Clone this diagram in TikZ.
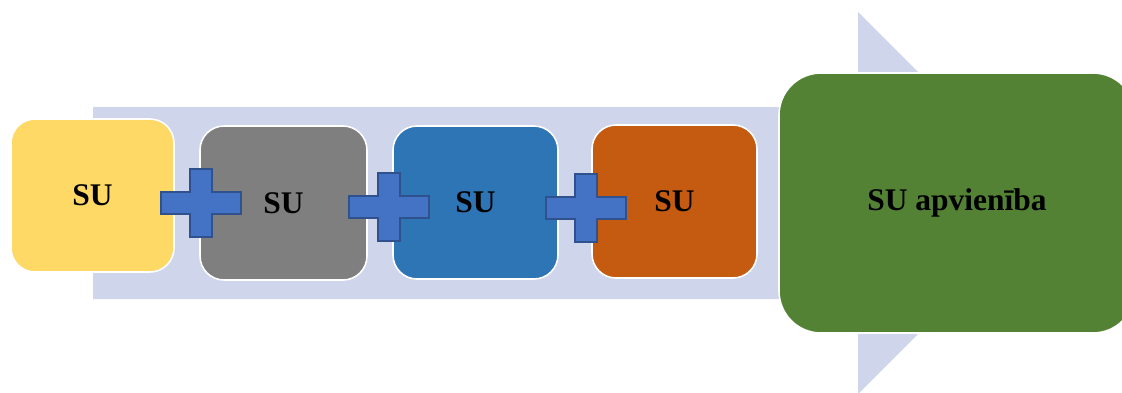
\documentclass[tikz,border=0pt]{standalone}
\usepackage{fontspec}
\setmainfont{Liberation Serif}
\begin{document}
\begin{tikzpicture}[x=1pt,y=-1pt,
  unit/.style={rounded corners=24pt, draw=white, line width=1.6pt,
    font=\fontsize{31.5}{36}\selectfont\bfseries, text=black, inner sep=0pt},
  plusbar/.style={fill=plusblue, draw=plusedge, line width=1.3pt},
]
\definecolor{bgarrow}{HTML}{CFD5EA}
\definecolor{suyellow}{HTML}{FFD966}
\definecolor{sugray}{HTML}{7F7F7F}
\definecolor{sublue}{HTML}{2E75B6}
\definecolor{suorange}{HTML}{C55A11}
\definecolor{sugreen}{HTML}{548235}
\definecolor{plusblue}{HTML}{4472C4}
\definecolor{plusedge}{HTML}{2F528F}
\useasboundingbox (0,0) rectangle (1122,392);
\clip (0,0) rectangle (1122,392);

% block arrow in the background
\fill[bgarrow] (93,107) -- (858,107) -- (858,12) -- (1049,203)
  -- (858,394) -- (858,299) -- (93,299) -- cycle;

% units
\node[unit, fill=suyellow, minimum width=163pt, minimum height=153pt] (u1) at (92.5,195.5) {SU};
\node[unit, fill=sugray,   minimum width=167pt, minimum height=154pt] (u2) at (283.5,203) {SU};
\node[unit, fill=sublue,   minimum width=165pt, minimum height=153pt] (u3) at (475.5,202.5) {SU};
\node[unit, fill=suorange, minimum width=165pt, minimum height=153pt] (u4) at (674.5,201.5) {SU};
\node[unit, fill=sugreen, rounded corners=42pt, minimum width=356pt, minimum height=260pt] (u5) at (957,203) {SU apvienība};

% plus signs between the units
\newcommand{\plussign}[2]{%
  \draw[plusbar] (#1-40,#2-11) -- (#1-11,#2-11) -- (#1-11,#2-34) -- (#1+11,#2-34)
    -- (#1+11,#2-11) -- (#1+40,#2-11) -- (#1+40,#2+11) -- (#1+11,#2+11)
    -- (#1+11,#2+34) -- (#1-11,#2+34) -- (#1-11,#2+11) -- (#1-40,#2+11) -- cycle;}
\plussign{201}{203}
\plussign{389}{207}
\plussign{586}{208}
\end{tikzpicture}
\end{document}
